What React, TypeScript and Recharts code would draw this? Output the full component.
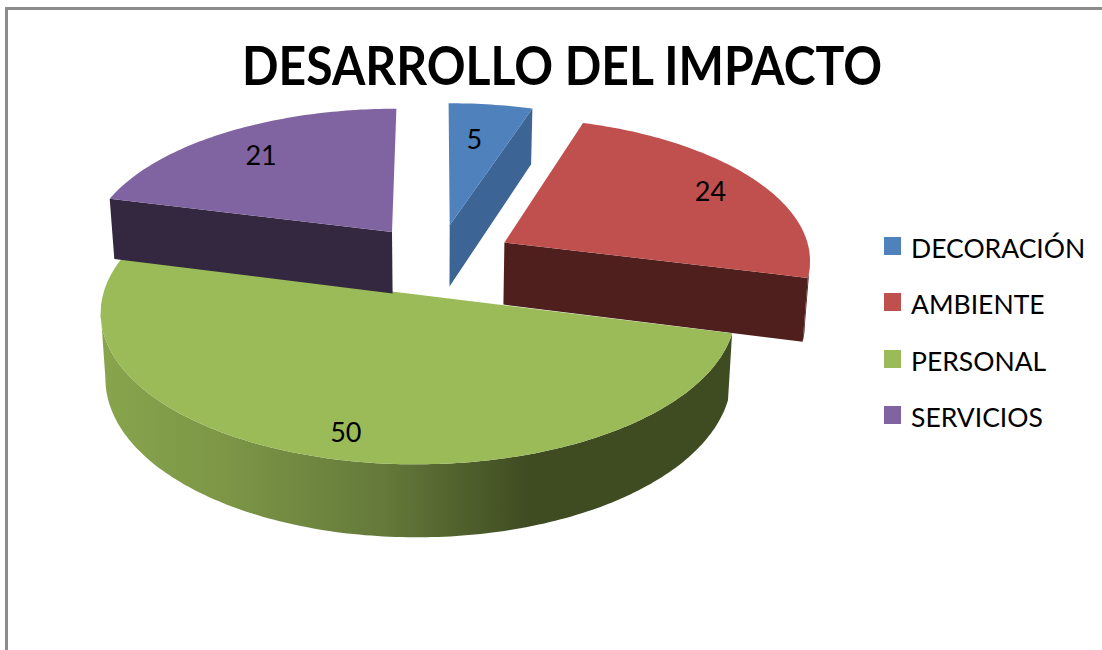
import React from "react";
import { Legend, Pie, PieChart } from "recharts";

const categories = ["DECORACIÓN", "AMBIENTE", "PERSONAL", "SERVICIOS"];
const values = [5, 24, 50, 21];
const topColors = ["#4F81BD", "#C0504D", "#9BBB59", "#8064A2"];
const wallColors = ["#3C6494", "#4F1F1E", "url(#greenWall)", "#33283F"];
// how far along the radius each number sits, and a small pixel nudge
const labelSpots = [0.7, 0.82, 0.85, 0.78];
const labelNudges = [
	[-5, 0],
	[0, 1],
	[3, 0],
	[1, 2],
];

const chartData = categories.map((name, i) => ({
	name,
	value: values[i],
	fill: topColors[i],
}));

// fake 3D: tilted, exploded pie with a bit of perspective
const EXPLODE = 0.25;
const PERSPECTIVE = 0.11;
const SQUASH = 0.464;
const DEPTH = 63;
const SHRINK = 0.014;

const rad = (deg: number) => (deg * Math.PI) / 180;

const project = (cx: number, cy: number, R: number, u: number, v: number, down: number) => {
	const w = 1 - PERSPECTIVE * v;
	return {
		x: cx + (R * u * (1 - down * SHRINK)) / w,
		y: cy + (R * SQUASH * v + down * DEPTH) / w,
	};
};

// clock angle: 0 at 12 o'clock going clockwise
const slicePoint = (p: any, clock: number, mid: number, r: number, down: number) => {
	const u = EXPLODE * Math.sin(rad(mid)) + r * Math.sin(rad(clock));
	const v = -EXPLODE * Math.cos(rad(mid)) - r * Math.cos(rad(clock));
	return project(p.cx, p.cy, p.outerRadius, u, v, down);
};

const toPath = (pts: { x: number; y: number }[]) =>
	"M" + pts.map((q) => `${q.x.toFixed(1)},${q.y.toFixed(1)}`).join("L") + "Z";

const Slice3D = (props: any) => {
	const from = 90 - props.startAngle;
	const to = 90 - props.endAngle;
	const mid = (from + to) / 2;
	const wall = wallColors[categories.indexOf(props.name)];

	const clocks: number[] = [];
	for (let a = from; a < to; a += 1) clocks.push(a);
	clocks.push(to);

	const apex = slicePoint(props, from, mid, 0, 0);
	const apexDown = slicePoint(props, from, mid, 0, 1);
	const first = slicePoint(props, from, mid, 1, 0);
	const firstDown = slicePoint(props, from, mid, 1, 1);
	const last = slicePoint(props, to, mid, 1, 0);
	const lastDown = slicePoint(props, to, mid, 1, 1);
	const rim = clocks.map((a) => slicePoint(props, a, mid, 1, 0));

	// rim wall: only the stretch that runs right to left on screen faces us
	const front: number[] = [];
	clocks.forEach((a, i) => {
		if (i > 0 && rim[i].x < rim[i - 1].x) {
			if (front.length === 0) front.push(clocks[i - 1]);
			front.push(a);
		}
	});
	const frontTop = front.map((a) => slicePoint(props, a, mid, 1, 0));
	const frontBottom = front.map((a) => slicePoint(props, a, mid, 1, 1)).reverse();

	return (
		<g>
			<defs>
				<linearGradient id="greenWall" gradientUnits="userSpaceOnUse" x1={100} x2={733} y1={0} y2={0}>
					<stop offset="0" stopColor="#88A54D" />
					<stop offset="0.2" stopColor="#7C9646" />
					<stop offset="0.45" stopColor="#64793A" />
					<stop offset="0.68" stopColor="#3F4B21" />
					<stop offset="1" stopColor="#3F4B21" />
				</linearGradient>
			</defs>
			{first.x < apex.x - 10 && <path d={toPath([apex, first, firstDown, apexDown])} fill={wall} />}
			{last.x > apex.x + 10 && <path d={toPath([apex, last, lastDown, apexDown])} fill={wall} />}
			{front.length > 1 && <path d={toPath([...frontTop, ...frontBottom])} fill={wall} />}
			<path d={toPath([apex, ...rim])} fill={props.fill} />
		</g>
	);
};

const SliceLabel = (props: any) => {
	const clock = 90 - props.midAngle;
	const spot = slicePoint(props, clock, clock, labelSpots[props.index], 0);
	const [dx, dy] = labelNudges[props.index];
	return (
		<text x={spot.x + dx} y={spot.y + dy} textAnchor="middle" dominantBaseline="central" fontFamily="Lato" fontSize={27} fill="#000">
			{props.value}
		</text>
	);
};

const LegendList = ({ payload }: any) => (
	<div style={{ fontFamily: "Lato", fontSize: 26.5, color: "#000" }}>
		{(payload || []).map((entry: any) => (
			<div key={entry.value} style={{ display: "flex", alignItems: "center", height: 56.3 }}>
				<span style={{ width: 17, height: 18, background: entry.color, marginRight: 10 }} />
				<span style={{ position: "relative", top: 2 }}>{entry.value}</span>
			</div>
		))}
	</div>
);

export default function App() {
	return (
		<div style={{ position: "absolute", left: 0, top: 0, width: 1102, height: 650, overflow: "hidden", background: "#fff" }}>
			<div
				style={{
					position: "absolute",
					left: 5,
					top: 7,
					right: -10,
					bottom: -10,
					borderLeft: "3px solid #8C8C8C",
					borderTop: "3px solid #8C8C8C",
				}}
			/>
			<PieChart width={1102} height={650} margin={{ top: 0, right: 0, bottom: 0, left: 0 }} style={{ position: "absolute", left: 0, top: 0 }}>
				<text
					x={242}
					y={85}
					textLength={640}
					lengthAdjust="spacingAndGlyphs"
					fontFamily="Lato"
					fontWeight={700}
					fontSize={53}
					fill="#000"
				>
					DESARROLLO DEL IMPACTO
				</text>
				<Pie
					data={chartData}
					dataKey="value"
					nameKey="name"
					cx={438}
					cy={259.4}
					outerRadius={307}
					startAngle={90}
					endAngle={-270}
					stroke="none"
					shape={Slice3D}
					label={SliceLabel}
					labelLine={false}
					isAnimationActive={false}
				/>
				<Legend
					layout="vertical"
					content={LegendList}
					itemSorter={null}
					wrapperStyle={{ position: "absolute", left: 884, top: 218, width: 215, bottom: "auto", right: "auto" }}
				/>
			</PieChart>
		</div>
	);
}
